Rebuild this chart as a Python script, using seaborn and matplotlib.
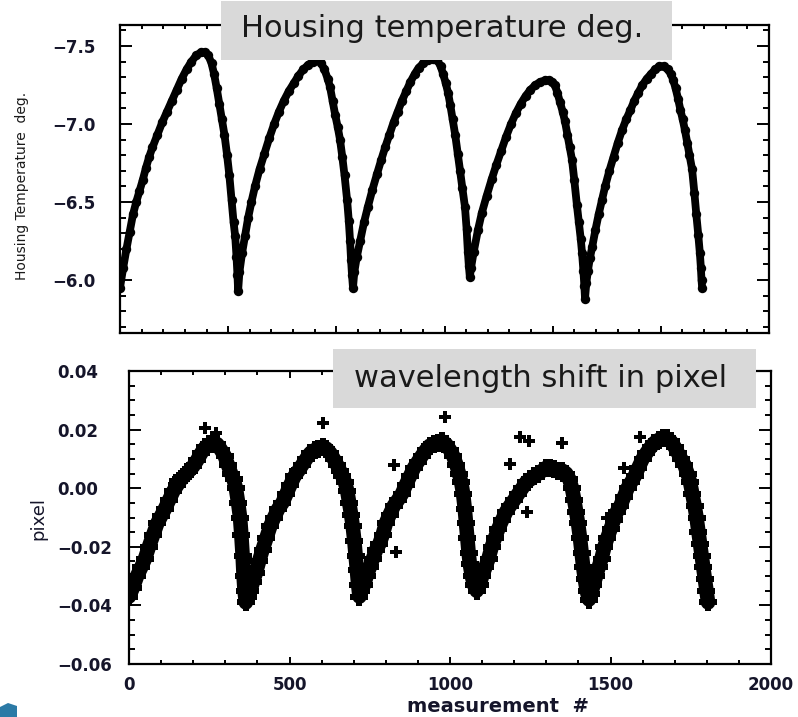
import numpy as np
import pandas as pd
import matplotlib
matplotlib.use("Agg")
import matplotlib.pyplot as plt
import seaborn as sns
from matplotlib.patches import Rectangle, Polygon
from matplotlib.ticker import AutoMinorLocator, FixedLocator

# ---------------- data ----------------
temp_meas = [0, 10, 20, 30, 40, 50, 60, 70, 80, 90, 100, 115, 130, 145, 160, 175, 190, 205, 220, 235,
             250, 262, 272, 282, 290, 298, 306, 314, 322, 330, 337, 344, 350, 355, 359, 362, 364,
             368, 376, 385, 395, 405, 416, 430, 445, 460, 475, 490, 505, 520, 535, 550, 565, 580, 595,
             608, 620, 630, 640, 647, 655, 663, 671, 678, 685, 692, 700, 705, 709, 712, 715, 718,
             722, 730, 740, 752, 764, 778, 792, 805, 817, 830, 843, 856, 869, 882, 895, 908, 920, 935,
             950, 965, 978, 988, 996, 1004, 1011, 1018, 1025, 1033, 1041, 1048, 1055, 1063, 1068, 1072,
             1075, 1078,
             1082, 1090, 1103, 1115, 1130, 1146, 1160, 1175, 1190, 1205, 1220, 1235, 1250, 1265, 1280,
             1295, 1310, 1322, 1332, 1340, 1348, 1356, 1364, 1371, 1379, 1386, 1393, 1400, 1408, 1414,
             1420, 1424, 1428, 1431, 1433,
             1437, 1442, 1448, 1455, 1465, 1475, 1485, 1495, 1508, 1521, 1534, 1547, 1560, 1573, 1585,
             1597, 1610, 1623, 1636, 1649, 1662, 1675, 1688, 1698, 1705, 1712, 1720, 1727, 1734, 1741,
             1748, 1755, 1763, 1770, 1776, 1782, 1787, 1790, 1792, 1794]
temp_deg = [-5.95, -6.08, -6.20, -6.31, -6.42, -6.50, -6.57, -6.64, -6.72, -6.79, -6.85, -6.93, -7.01,
            -7.08, -7.15, -7.22, -7.29, -7.35, -7.40, -7.44,
            -7.46, -7.46, -7.44, -7.39, -7.32, -7.23, -7.13, -7.03, -6.93, -6.80, -6.67, -6.51, -6.37,
            -6.28, -6.15, -6.03, -5.93,
            -6.05, -6.17, -6.28, -6.40, -6.50, -6.60, -6.71, -6.81, -6.91, -7.00, -7.08, -7.15, -7.21,
            -7.26, -7.31, -7.35, -7.38, -7.40,
            -7.41, -7.39, -7.35, -7.29, -7.24, -7.15, -7.06, -6.98, -6.90, -6.79, -6.67, -6.51, -6.38,
            -6.25, -6.13, -6.03, -5.95,
            -6.05, -6.15, -6.25, -6.37, -6.47, -6.58, -6.68, -6.77, -6.85, -6.93, -7.01, -7.08, -7.15,
            -7.21, -7.27, -7.32, -7.36, -7.39,
            -7.41, -7.42, -7.41, -7.37, -7.32, -7.26, -7.20, -7.12, -7.03, -6.93, -6.81, -6.70, -6.59,
            -6.47, -6.33, -6.18, -6.09, -6.02,
            -6.08, -6.18, -6.32, -6.43, -6.54, -6.65, -6.74, -6.83, -6.92, -7.00, -7.07, -7.13, -7.18,
            -7.22, -7.25,
            -7.27, -7.28, -7.28, -7.27, -7.25, -7.20, -7.14, -7.08, -7.02, -6.93, -6.85, -6.77, -6.64,
            -6.48, -6.37,
            -6.26, -6.17, -6.06, -5.96, -5.88,
            -5.98, -6.06, -6.14, -6.21, -6.32, -6.42, -6.51, -6.60, -6.70, -6.79, -6.88, -6.96, -7.03,
            -7.09, -7.15,
            -7.20, -7.25, -7.29, -7.32, -7.35, -7.37, -7.37, -7.35, -7.32, -7.28, -7.23, -7.16, -7.09,
            -7.03, -6.96,
            -6.88, -6.80, -6.71, -6.56, -6.42, -6.29, -6.17, -6.08, -6.00, -5.95]

pix_meas = [0, 12, 25, 38, 50, 62, 75, 88, 100, 112, 125, 138, 150, 162, 175, 188, 200, 212, 225, 238,
            250, 262, 275, 287, 298, 308, 318, 326, 333, 340, 346, 350, 354, 357, 360, 364,
            370, 378, 386, 395, 405, 416, 428, 440, 452, 465, 478, 490, 502, 515, 528, 540, 552, 565,
            578, 590, 603, 615, 627, 638, 648, 657, 665, 673, 680, 686, 692, 697, 702, 706, 710, 714, 718,
            724, 732, 740, 750, 760, 770, 780, 790, 800, 812, 825, 838, 850, 862, 875, 888, 900, 912,
            925, 937, 950, 962, 975, 988, 1000, 1010, 1020, 1028, 1035, 1041, 1046, 1050, 1054, 1058,
            1062, 1068, 1075, 1083,
            1092, 1100, 1110, 1120, 1130, 1140, 1150, 1162, 1175, 1187, 1200, 1212, 1225, 1237, 1250,
            1262, 1275, 1288, 1300, 1312, 1325, 1337, 1350, 1362, 1372, 1380, 1387, 1393, 1399, 1405,
            1410, 1415, 1420, 1426, 1433,
            1440, 1447, 1455, 1463, 1472, 1481, 1490, 1500, 1510, 1520, 1531, 1542, 1553, 1564, 1575,
            1587, 1600, 1612, 1625, 1637, 1650, 1662, 1675, 1688, 1700, 1710, 1720, 1730, 1740, 1748,
            1755, 1762, 1768, 1774, 1779, 1784, 1789, 1794, 1799, 1804]
pix_shift = [-0.037, -0.034, -0.030, -0.027, -0.024, -0.020, -0.016, -0.012, -0.0095, -0.007, -0.004,
             -0.001, 0.001, 0.003, 0.0045, 0.006, 0.0075, 0.0095, 0.012, 0.014,
             0.015, 0.0155, 0.015, 0.013, 0.011, 0.008, 0.005, 0.003, 0.000, -0.005, -0.010, -0.016,
             -0.023, -0.030, -0.035, -0.039,
             -0.037, -0.035, -0.032, -0.029, -0.025, -0.021, -0.017, -0.013, -0.010, -0.007, -0.005,
             -0.002, 0.001, 0.004, 0.006, 0.008, 0.010, 0.012,
             0.013, 0.0135, 0.014, 0.0135, 0.012, 0.010, 0.008, 0.006, 0.004, 0.002, -0.001, -0.005,
             -0.009, -0.013, -0.018, -0.023, -0.028, -0.033, -0.037,
             -0.035, -0.033, -0.030, -0.027, -0.024, -0.021, -0.019, -0.016, -0.012, -0.009, -0.006,
             -0.004, -0.002, 0.001, 0.004, 0.007, 0.009, 0.011,
             0.013, 0.0145, 0.015, 0.0155, 0.016, 0.015, 0.013, 0.011, 0.008, 0.005, 0.002, -0.002,
             -0.007, -0.012, -0.017, -0.022,
             -0.026, -0.030, -0.033, -0.035,
             -0.033, -0.030, -0.027, -0.024, -0.020, -0.017, -0.014, -0.011, -0.008, -0.006, -0.004,
             -0.002, 0.000, 0.002, 0.003,
             0.004, 0.005, 0.006, 0.007, 0.007, 0.0065, 0.006, 0.006, 0.005, 0.003, 0.000, -0.004,
             -0.008, -0.012, -0.017,
             -0.022, -0.027, -0.031, -0.035, -0.038,
             -0.036, -0.033, -0.030, -0.027, -0.024, -0.020, -0.017, -0.014, -0.011, -0.008, -0.006,
             -0.003, 0.000, 0.002, 0.004,
             0.007, 0.010, 0.012, 0.014, 0.0155, 0.0165, 0.017, 0.017, 0.016, 0.014, 0.012, 0.010,
             0.008, 0.005, 0.002,
             -0.002, -0.006, -0.010, -0.015, -0.019, -0.023, -0.027, -0.031, -0.035, -0.039]

out_meas = [144, 238, 270, 604, 826, 833, 983, 1186, 1217, 1240, 1246, 1349, 1490, 1543, 1593]
out_shift = [0.0027, 0.0205, 0.0190, 0.0222, 0.0078, -0.0218, 0.0242, 0.0082, 0.0174, -0.0082, 0.0160,
             0.0154, -0.0102, 0.0068, 0.0174]

top_title = "Housing temperature deg."
bottom_title = "wavelength shift in pixel"
top_ylabel = "Housing Temperature  deg."
bottom_ylabel = "pixel"
x_label = "measurement  #"
top_yticks = [-7.5, -7.0, -6.5, -6.0]
top_yticklabels = ["\u22127.5", "\u22127.0", "\u22126.5", "\u22126.0"]
bottom_yticks = [0.04, 0.02, 0.00, -0.02, -0.04, -0.06]
bottom_yticklabels = ["0.04", "0.02", "0.00", "\u22120.02", "\u22120.04", "\u22120.06"]
bottom_xticks = [0, 500, 1000, 1500, 2000]
bottom_xticklabels = ["0", "500", "1000", "1500", "2000"]

# ---------------- figure ----------------
sns.set_style("ticks")
plt.rcParams["font.family"] = ["DejaVu Sans"]

W, H = 798, 717
fig = plt.figure(figsize=(W / 100, H / 100), dpi=100)


def fx(px):
    return px / W


def fy(py):
    return 1 - py / H


ax1 = fig.add_axes([fx(120), fy(333), fx(769) - fx(120), fy(25) - fy(333)])
ax2 = fig.add_axes([fx(129), fy(664), fx(771) - fx(129), fy(371) - fy(664)])

tick_color = "#15152a"

# top panel
df_t = pd.DataFrame({"m": temp_meas, "T": temp_deg})
sns.lineplot(data=df_t, x="m", y="T", ax=ax1, color="black", lw=5.6, sort=False,
             estimator=None)
sns.scatterplot(data=df_t, x="m", y="T", ax=ax1, color="black", marker="o", s=46,
                linewidth=0)
ax1.set_xlim(0, 2000)
ax1.set_ylim(-5.66, -7.635)
ax1.xaxis.set_major_locator(FixedLocator(list(np.linspace(0, 2000, 7))))
ax1.xaxis.set_minor_locator(AutoMinorLocator(5))
ax1.set_yticks(top_yticks)
ax1.set_yticklabels(top_yticklabels)
ax1.yaxis.set_minor_locator(AutoMinorLocator(5))
ax1.set_xlabel("")
ax1.set_ylabel("")

# bottom panel
df_p = pd.DataFrame({"m": pix_meas, "p": pix_shift})
df_o = pd.DataFrame({"m": out_meas, "p": out_shift})
sns.lineplot(data=df_p, x="m", y="p", ax=ax2, color="black", lw=10.5, sort=False,
             estimator=None)
sns.scatterplot(data=df_p, x="m", y="p", ax=ax2, color="black", marker="P", s=150,
                linewidth=0)
sns.scatterplot(data=df_o, x="m", y="p", ax=ax2, color="black", marker="P", s=75,
                linewidth=0)
ax2.set_xlim(0, 2000)
ax2.set_ylim(-0.06, 0.04)
ax2.set_xticks(bottom_xticks)
ax2.set_xticklabels(bottom_xticklabels)
ax2.xaxis.set_minor_locator(AutoMinorLocator(5))
ax2.set_yticks(bottom_yticks)
ax2.set_yticklabels(bottom_yticklabels)
ax2.yaxis.set_minor_locator(AutoMinorLocator(4))
ax2.set_xlabel("")
ax2.set_ylabel("")

for ax in (ax1, ax2):
    for s in ax.spines.values():
        s.set_visible(True)
        s.set_linewidth(1.6)
        s.set_color("black")
    ax.tick_params(which="both", direction="in", top=True, right=True, colors="black",
                   width=1.4, labelcolor=tick_color)
    ax.tick_params(axis="y", which="major", length=8.5)
    ax.tick_params(axis="y", which="minor", length=4.3)
    ax.tick_params(axis="x", which="major", length=5.0)
    ax.tick_params(axis="x", which="minor", length=3.0)

ax1.tick_params(axis="x", labelbottom=False)
ax1.tick_params(axis="y", pad=49)
ax2.tick_params(axis="y", pad=52)
ax2.tick_params(axis="x", pad=9)
for lab in ax1.get_yticklabels() + ax2.get_yticklabels():
    lab.set_ha("left")
    lab.set_fontweight("bold")
    lab.set_fontsize(12)
for lab in ax2.get_xticklabels():
    lab.set_fontweight("bold")
    lab.set_fontsize(12)

# axis labels
fig.text(fx(22), fy(186), top_ylabel, rotation=90, ha="center", va="center",
         fontsize=10, color="#1a1a1a")
fig.text(fx(38), fy(518), bottom_ylabel, rotation=90, ha="center", va="center",
         fontsize=13, color=tick_color)
fig.text(fx(498), fy(707), x_label, ha="center", va="center", fontsize=14,
         fontweight="bold", color=tick_color)

# grey caption boxes
fig.add_artist(Rectangle((fx(221), fy(60)), fx(672) - fx(221), fy(1) - fy(60),
                         transform=fig.transFigure, facecolor="#d9d9d9",
                         edgecolor="none", zorder=5))
fig.text(fx(442), fy(37), top_title, ha="center", va="baseline", fontsize=22,
         color="#1a1a1a", zorder=6)
fig.add_artist(Rectangle((fx(333), fy(408)), fx(756) - fx(333), fy(349) - fy(408),
                         transform=fig.transFigure, facecolor="#d9d9d9",
                         edgecolor="none", zorder=5))
fig.text(fx(541), fy(387), bottom_title, ha="center", va="baseline", fontsize=22,
         color="#1a1a1a", zorder=6)

# slide decoration in the corner
fig.add_artist(Polygon([(fx(0), fy(717)), (fx(0), fy(707)), (fx(8), fy(703)),
                        (fx(17), fy(706)), (fx(17), fy(717))],
                       closed=True, transform=fig.transFigure, facecolor="#2b7aa6",
                       edgecolor="none", zorder=5))

fig.savefig("out.png", dpi=100)
